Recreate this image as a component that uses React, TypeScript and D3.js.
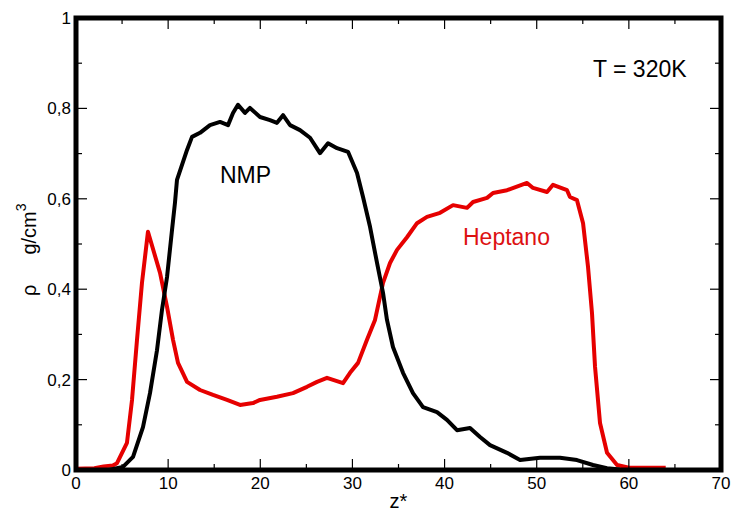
import React from "react";
import * as d3 from "d3";

const nmpZ = [0, 3.5, 5.1, 6.19, 7.27, 8.03, 8.79, 9.33, 9.88, 10.42, 10.74, 10.96, 12.05, 12.59, 13.46, 14.54, 15.63, 16.5, 17.04, 17.58, 18.34, 18.88, 19.97, 21.05, 21.81, 22.47, 23.23, 24.31, 25.4, 26.48, 27.35, 28.33, 29.52, 30.5, 31.15, 31.91, 32.67, 33.32, 33.75, 34.4, 35.49, 36.57, 37.66, 39.18, 40.26, 41.35, 42.76, 43.85, 44.93, 46.78, 48.19, 50.36, 52.53, 54.37, 56.11, 57.63, 59];
const nmpRho = [0, 0, 0.007, 0.029, 0.095, 0.17, 0.265, 0.354, 0.427, 0.531, 0.591, 0.642, 0.708, 0.737, 0.746, 0.763, 0.77, 0.763, 0.79, 0.808, 0.79, 0.801, 0.781, 0.774, 0.768, 0.785, 0.763, 0.752, 0.735, 0.701, 0.723, 0.712, 0.704, 0.657, 0.604, 0.538, 0.458, 0.392, 0.332, 0.272, 0.215, 0.17, 0.139, 0.128, 0.111, 0.088, 0.093, 0.073, 0.055, 0.038, 0.022, 0.027, 0.027, 0.022, 0.011, 0.004, 0.001];

const heptZ = [0, 2, 3, 4, 4.45, 5.53, 6.08, 6.62, 7.16, 7.81, 9.12, 9.88, 10.53, 11.07, 12.05, 13.46, 14.87, 16.39, 17.8, 19.21, 19.97, 21.81, 23.55, 25.07, 26.16, 27.24, 28.98, 29.74, 30.61, 31.58, 32.45, 33.32, 34.08, 34.84, 35.92, 37.01, 38.09, 39.51, 40.92, 42.44, 43.09, 44.61, 45.26, 46.78, 48.95, 49.6, 51.12, 51.77, 53.29, 53.61, 54.37, 55.03, 55.57, 56.0, 56.33, 56.87, 57.63, 58.72, 60, 64];
const heptRho = [0.003, 0.004, 0.008, 0.01, 0.015, 0.06, 0.155, 0.288, 0.414, 0.527, 0.436, 0.361, 0.288, 0.237, 0.195, 0.177, 0.166, 0.155, 0.144, 0.148, 0.155, 0.162, 0.17, 0.184, 0.195, 0.204, 0.192, 0.215, 0.237, 0.288, 0.332, 0.414, 0.458, 0.487, 0.515, 0.546, 0.56, 0.569, 0.586, 0.58, 0.593, 0.602, 0.613, 0.619, 0.635, 0.624, 0.615, 0.631, 0.619, 0.604, 0.597, 0.546, 0.449, 0.347, 0.228, 0.104, 0.038, 0.011, 0.005, 0.005];

const xTickLabels = ["0", "10", "20", "30", "40", "50", "60", "70"];
const yTickLabels = ["0", "0,2", "0,4", "0,6", "0,8", "1"];

const FONT = "'Liberation Sans', Arial, Helvetica, sans-serif";

export default function App() {
  const W = 732, H = 512;
  const x = d3.scaleLinear().domain([0, 70]).range([76, 721]);
  const y = d3.scaleLinear().domain([0, 1]).range([470, 18]);
  const line = d3.line<[number, number]>().x(d => x(d[0])).y(d => y(d[1]));
  const nmp = nmpZ.map((z, i) => [z, nmpRho[i]] as [number, number]);
  const hept = heptZ.map((z, i) => [z, heptRho[i]] as [number, number]);

  const xMajor = d3.range(0, 71, 10);
  const xMinor = d3.range(5, 70, 10);
  const yMajor = d3.range(0, 6).map(i => i * 0.2);
  const yMinor = d3.range(0, 5).map(i => i * 0.2 + 0.1);
  const [x0, x1] = x.range();
  const [y0, y1] = y.range();
  const majL = 11, minL = 6;

  return (
    <svg width={W} height={H} style={{ position: "absolute", left: 0, top: 0, background: "#fff" }} fontFamily={FONT}>
      <rect width={W} height={H} fill="#fff" />
      <path d={line(hept) || ""} fill="none" stroke="#e60000" strokeWidth={4} strokeLinejoin="round" />
      <path d={line(nmp) || ""} fill="none" stroke="#000" strokeWidth={4} strokeLinejoin="round" />
      <g stroke="#000" strokeWidth={1.2}>
        {xMajor.map(v => (
          <g key={"xM" + v}>
            <line x1={x(v)} x2={x(v)} y1={y0} y2={y0 - majL} />
            <line x1={x(v)} x2={x(v)} y1={y1} y2={y1 + majL} />
          </g>
        ))}
        {xMinor.map(v => (
          <g key={"xm" + v}>
            <line x1={x(v)} x2={x(v)} y1={y0} y2={y0 - minL} />
            <line x1={x(v)} x2={x(v)} y1={y1} y2={y1 + minL} />
          </g>
        ))}
        {yMajor.map(v => (
          <g key={"yM" + v}>
            <line x1={x0} x2={x0 + majL} y1={y(v)} y2={y(v)} />
            <line x1={x1} x2={x1 - majL} y1={y(v)} y2={y(v)} />
          </g>
        ))}
        {yMinor.map(v => (
          <g key={"ym" + v}>
            <line x1={x0} x2={x0 + minL} y1={y(v)} y2={y(v)} />
            <line x1={x1} x2={x1 - minL} y1={y(v)} y2={y(v)} />
          </g>
        ))}
      </g>
      <rect x={x0} y={y1} width={x1 - x0} height={y0 - y1} fill="none" stroke="#000" strokeWidth={5} />
      <g fontSize={17} fill="#000">
        {xMajor.map((v, i) => (
          <text key={"xl" + v} x={x(v)} y={489} textAnchor="middle">{xTickLabels[i]}</text>
        ))}
        {yMajor.map((v, i) => (
          <text key={"yl" + v} x={71} y={y(v) + 6} textAnchor="end">{yTickLabels[i]}</text>
        ))}
      </g>
      <text x={(x0 + x1) / 2} y={508} textAnchor="middle" fontSize={20}>z*</text>
      <text transform="translate(36,296) rotate(-90)" fontSize={20}>
        <tspan>ρ</tspan>
        <tspan dx={30}>g/cm</tspan>
        <tspan dy={-10} fontSize={14}>3</tspan>
      </text>
      <text x={593} y={77} fontSize={23}>T = 320K</text>
      <text x={220} y={183} fontSize={23}>NMP</text>
      <text x={463} y={245} fontSize={23} fill="#dd1111">Heptano</text>
    </svg>
  );
}
